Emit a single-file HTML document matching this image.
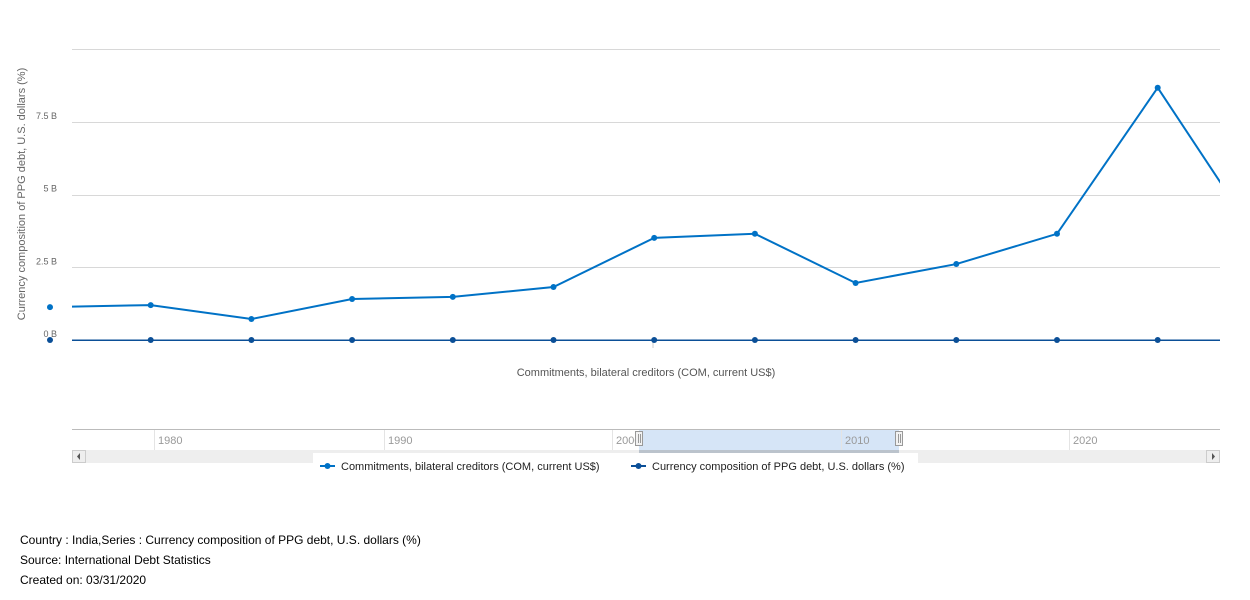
<!DOCTYPE html>
<html><head><meta charset="utf-8"><style>
body{margin:0;background:#fff;font-family:"Liberation Sans",Arial,sans-serif;}
svg text{font-family:"Liberation Sans",Arial,sans-serif;}
.foot{position:absolute;left:20px;font-size:12px;color:#000;}
</style></head><body>
<div style="position:relative;width:1250px;height:600px;overflow:hidden">
<svg id="c" width="1250" height="600">
<defs><clipPath id="pc"><rect x="72" y="0" width="1148" height="420"/></clipPath></defs>
<g id="grid"></g>
<text transform="translate(25,194) rotate(-90)" text-anchor="middle" font-size="11" fill="#666">Currency composition of PPG debt, U.S. dollars (%)</text>
<line x1="653" y1="340" x2="653" y2="348" stroke="#ccc"/>
<text x="646" y="376" text-anchor="middle" font-size="11" fill="#555">Commitments, bilateral creditors (COM, current US$)</text>
<g id="series"></g>
<g id="nav">
<line x1="72" y1="429.5" x2="1220" y2="429.5" stroke="#bbb"/>
<rect x="639" y="430" width="260" height="20" fill="#d6e5f7"/>
<line x1="154.5" y1="430" x2="154.5" y2="450" stroke="#e4e4e4"/>
<line x1="384.5" y1="430" x2="384.5" y2="450" stroke="#e4e4e4"/>
<line x1="612.5" y1="430" x2="612.5" y2="450" stroke="#e4e4e4"/>
<line x1="841.5" y1="430" x2="841.5" y2="450" stroke="#e4e4e4"/>
<line x1="1069.5" y1="430" x2="1069.5" y2="450" stroke="#e4e4e4"/>
<text x="158" y="444" font-size="11" fill="#999">1980</text>
<text x="388" y="444" font-size="11" fill="#999">1990</text>
<text x="616" y="444" font-size="11" fill="#999">2000</text>
<text x="845" y="444" font-size="11" fill="#999">2010</text>
<text x="1073" y="444" font-size="11" fill="#999">2020</text>
<rect x="72" y="450" width="1148" height="13" fill="#eee"/>
<rect x="639" y="450" width="260" height="3" fill="#bbc3cc"/>
<rect x="72.5" y="450.5" width="13" height="12" fill="#eee" stroke="#ccc"/>
<path d="M80,453 L77,456.5 L80,460Z" fill="#555"/>
<rect x="1206.5" y="450.5" width="13" height="12" fill="#eee" stroke="#ccc"/>
<path d="M1212,453 L1215,456.5 L1212,460Z" fill="#555"/>
<rect x="635.5" y="431.5" width="7" height="14" fill="#f2f2f2" stroke="#999"/>
<line x1="638.5" y1="434" x2="638.5" y2="443" stroke="#999"/><line x1="640.5" y1="434" x2="640.5" y2="443" stroke="#999"/>
<rect x="895.5" y="431.5" width="7" height="14" fill="#f2f2f2" stroke="#999"/>
<line x1="898.5" y1="434" x2="898.5" y2="443" stroke="#999"/><line x1="900.5" y1="434" x2="900.5" y2="443" stroke="#999"/>
</g>
<rect x="313" y="453" width="605" height="24" fill="#fff"/>
<g>
<line x1="320" y1="466" x2="335" y2="466" stroke="#0072c6" stroke-width="2"/><circle cx="327.5" cy="466" r="3" fill="#0072c6"/>
<text x="341" y="470" font-size="11" fill="#222">Commitments, bilateral creditors (COM, current US$)</text></g>
<g>
<line x1="631" y1="466" x2="646" y2="466" stroke="#0b4f97" stroke-width="2"/><circle cx="638.5" cy="466" r="3" fill="#0b4f97"/>
<text x="652" y="470" font-size="11" fill="#222">Currency composition of PPG debt, U.S. dollars (%)</text></g>
</svg>
<div class="foot" style="top:533px">Country : India,Series : Currency composition of PPG debt, U.S. dollars (%)</div>
<div class="foot" style="top:553px">Source: International Debt Statistics</div>
<div class="foot" style="top:573px">Created on: 03/31/2020</div>
</div>
<script>
const categories=["2007","2008","2009","2010","2011","2012","2013","2014","2015","2016","2017","2018","2019"];
const commitments=[1.13,1.20,0.72,1.41,1.48,1.82,3.51,3.65,1.96,2.61,3.65,8.67,3.44];
const currencyShare=[0,0,0,0,0,0,0,0,0,0,0,0,0];
const yTicks=[0,2.5,5,7.5,10];
const yTickLabels=["0 B","2.5 B","5 B","7.5 B",""];
const NS="http://www.w3.org/2000/svg";
const x=i=>50+i*100.7;
const y=v=>340-v*29.1;
const grid=document.getElementById('grid');
yTicks.forEach((t,k)=>{
  const l=document.createElementNS(NS,'line');
  l.setAttribute('x1',72);l.setAttribute('x2',1220);
  l.setAttribute('y1',Math.round(y(t))+0.5);l.setAttribute('y2',Math.round(y(t))+0.5);
  l.setAttribute('stroke',t===0?'#0b4f97':'#d8d8d8');
  
  
  grid.appendChild(l);
  const tx=document.createElementNS(NS,'text');
  tx.setAttribute('x',57);tx.setAttribute('y',y(t)-3);tx.setAttribute('text-anchor','end');
  tx.setAttribute('font-size','9');tx.setAttribute('fill','#666');
  tx.textContent=yTickLabels[k];
  
  
  grid.appendChild(tx);
});
const sg=document.getElementById('series');
function draw(vals,color,name,w){
  const p=document.createElementNS(NS,'polyline');
  p.setAttribute('points',vals.map((v,i)=>x(i)+','+y(v)).join(' '));
  p.setAttribute('fill','none');p.setAttribute('stroke',color);p.setAttribute('stroke-width',w);
  p.setAttribute('clip-path','url(#pc)');
  
  
  sg.appendChild(p);
  vals.forEach((v,i)=>{
    const c=document.createElementNS(NS,'circle');
    c.setAttribute('cx',x(i));c.setAttribute('cy',y(v));c.setAttribute('r',3);c.setAttribute('fill',color);
    
    
    sg.appendChild(c);
  });
}
draw(commitments,'#0072c6','commitments',2);
draw(currencyShare,'#0b4f97','currency-share',1);
</script>
</body></html>
